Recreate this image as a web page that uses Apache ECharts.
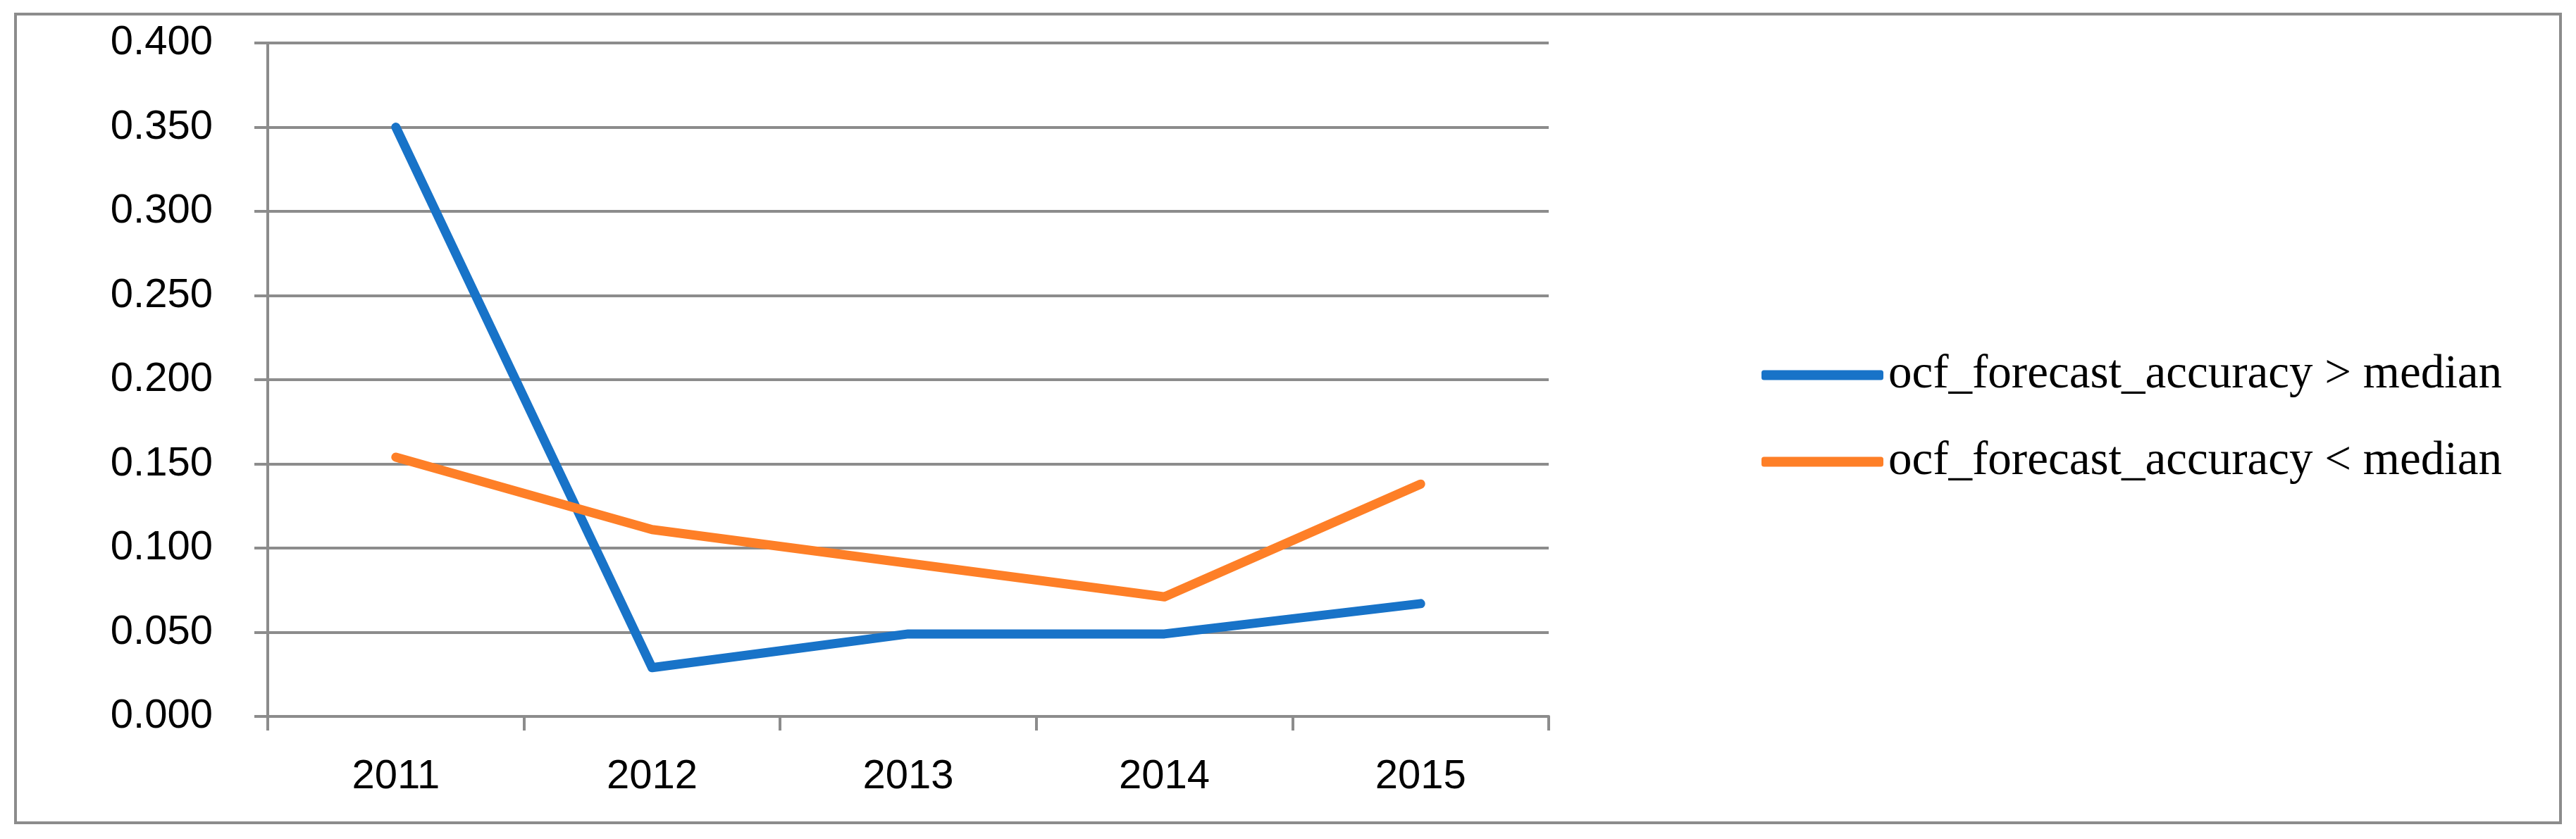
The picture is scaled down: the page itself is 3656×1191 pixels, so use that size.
<!DOCTYPE html>
<html>
<head>
<meta charset="utf-8">
<script src="https://cdn.jsdelivr.net/npm/echarts@6/dist/echarts.min.js"></script>
<style>
  html, body { margin: 0; padding: 0; background: #fff; }
  #chart { width: 3656px; height: 1191px; }
</style>
</head>
<body>
<div id="chart"></div>
<script>
// data
const years = ['2011', '2012', '2013', '2014', '2015']
const aboveMedian = [0.350, 0.029, 0.049, 0.049, 0.067]
const belowMedian = [0.154, 0.111, 0.091, 0.071, 0.138]
const seriesNames = ['ocf_forecast_accuracy > median', 'ocf_forecast_accuracy < median']

const gray = '#8c8c8c'
const color = ['#1873c8', '#fe7f27']

const myChart = echarts.init(document.getElementById('chart'))
const option = {
  animation: false,
  backgroundColor: '#fff',
  color: color,
  grid: {
    left: 380,
    right: 1458,
    top: 61,
    bottom: 174,
    containLabel: false
  },
  graphic: [{
    type: 'rect',
    shape: { x: 22, y: 20, width: 3612, height: 1148 },
    style: { fill: 'none', stroke: gray, lineWidth: 4 },
    silent: true
  }],
  legend: {
    orient: 'vertical',
    left: 2500,
    top: 499,
    padding: 0,
    itemGap: 56,
    itemWidth: 173,
    itemHeight: 14,
    icon: 'roundRect',
    itemStyle: { borderWidth: 0 },
    textStyle: {
      fontFamily: 'Liberation Serif',
      fontSize: 67,
      lineHeight: 67,
      color: '#000',
      padding: [0, 0, 0, 2]
    },
    data: seriesNames
  },
  xAxis: {
    type: 'category',
    boundaryGap: true,
    data: years,
    axisLine: { show: true, lineStyle: { color: gray, width: 4 } },
    axisTick: { show: true, length: 20, lineStyle: { color: gray, width: 4 } },
    axisLabel: {
      margin: 57,
      fontFamily: 'Liberation Sans',
      fontSize: 58,
      color: '#000'
    },
    splitLine: { show: false }
  },
  yAxis: {
    type: 'value',
    min: 0,
    max: 0.4,
    interval: 0.05,
    axisLine: { show: true, lineStyle: { color: gray, width: 4 } },
    axisTick: { show: true, length: 19, lineStyle: { color: gray, width: 4 } },
    axisLabel: {
      margin: 78,
      fontFamily: 'Liberation Sans',
      fontSize: 58,
      color: '#000',
      formatter: v => v.toFixed(3)
    },
    splitLine: { show: true, lineStyle: { color: gray, width: 4 } }
  },
  series: [{
    name: seriesNames[0],
    type: 'line',
    data: aboveMedian,
    showSymbol: false,
    symbol: 'none',
    lineStyle: { width: 13, cap: 'round', join: 'round' }
  }, {
    name: seriesNames[1],
    type: 'line',
    data: belowMedian,
    showSymbol: false,
    symbol: 'none',
    lineStyle: { width: 13, cap: 'round', join: 'round' }
  }]
}
myChart.setOption(option, true)
</script>
</body>
</html>
